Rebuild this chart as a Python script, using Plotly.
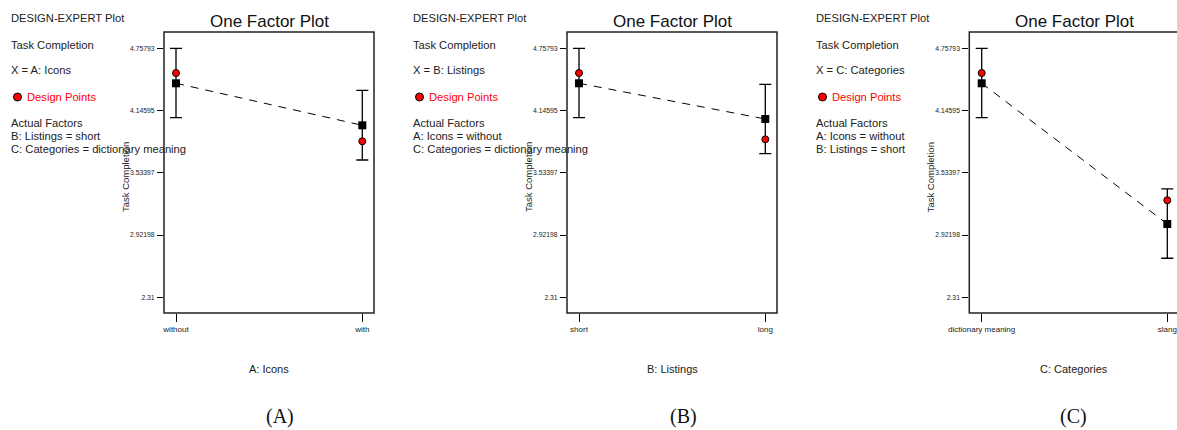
import plotly.graph_objects as go

W, H = 1177, 430

# ---------------- data ----------------
y_tickvals = [2.31, 2.92198, 3.53397, 4.14595, 4.75793]
y_ticktext = ["2.31", "2.92198", "3.53397", "4.14595", "4.75793"]

a_levels = ["without", "with"]
a_pred = [4.414, 4.001]
a_design = [4.515, 3.844]
a_upper = [4.758, 4.345]
a_lower = [4.076, 3.660]

b_levels = ["short", "long"]
b_pred = [4.414, 4.063]
b_design = [4.515, 3.863]
b_upper = [4.758, 4.404]
b_lower = [4.076, 3.722]

c_levels = ["dictionary meaning", "slang"]
c_pred = [4.414, 3.031]
c_design = [4.515, 3.264]
c_upper = [4.758, 3.375]
c_lower = [4.076, 2.694]

panel_x_titles = ["A: Icons", "B: Listings", "C: Categories"]
panel_labels = ["(A)", "(B)", "(C)"]
panel_factor_lines = [
    ["X = A: Icons", "B: Listings = short", "C: Categories = dictionary meaning"],
    ["X = B: Listings", "A: Icons = without", "C: Categories = dictionary meaning"],
    ["X = C: Categories", "A: Icons = without", "B: Listings = short"],
]

# ---------------- layout helpers ----------------
def px(x):
    return x / W

def py(y):
    return 1 - y / H

SANS = "Liberation Sans, Arial, sans-serif"
SERIF = "Liberation Serif, Times New Roman, serif"

frames = [(164, 374), (567, 777), (969.3, 1179)]
cat_pos = [(176, 362.3), (579, 765.3), (981.7, 1167.3)]
text_left = [11, 413, 816]
label_x = [280, 683, 1073]
y_top, y_bot = 32, 313
y_range = [2.1557, 4.9182]

panels = [
    (a_levels, a_pred, a_design, a_upper, a_lower),
    (b_levels, b_pred, b_design, b_upper, b_lower),
    (c_levels, c_pred, c_design, c_upper, c_lower),
]

fig = go.Figure()
shapes = []
annotations = []

for i, (levels, pred, design, upper, lower) in enumerate(panels):
    n = "" if i == 0 else str(i + 1)
    xa, ya = "x" + n, "y" + n
    fl, fr = frames[i]
    c0, c1 = cat_pos[i]
    unit = c1 - c0
    x0 = -(c0 - fl) / unit
    right_px = min(fr, W)
    x1 = x0 + (right_px - fl) / unit

    fig.add_trace(go.Scatter(
        x=levels, y=pred, xaxis=xa, yaxis=ya, mode="markers",
        marker=dict(symbol="square", size=8, color="black"),
        error_y=dict(type="data", symmetric=False,
                     array=[u - p for u, p in zip(upper, pred)],
                     arrayminus=[p - l for p, l in zip(pred, lower)],
                     color="black", thickness=1.3, width=6),
        showlegend=False, hoverinfo="skip", cliponaxis=False))
    fig.add_trace(go.Scatter(
        x=levels, y=pred, xaxis=xa, yaxis=ya, mode="lines",
        line=dict(color="black", width=1, dash="8px,7px"),
        showlegend=False, hoverinfo="skip"))
    fig.add_trace(go.Scatter(
        x=levels, y=design, xaxis=xa, yaxis=ya, mode="markers",
        marker=dict(symbol="circle", size=7, color="red",
                    line=dict(color="black", width=1)),
        showlegend=False, hoverinfo="skip", cliponaxis=False))

    dom_x = [px(fl), px(right_px)]
    dom_y = [py(y_bot), py(y_top)]
    fig.layout["xaxis" + n] = dict(
        domain=dom_x, anchor=ya, type="category", range=[x0, x1],
        showgrid=False, zeroline=False, showline=False, automargin=False,
        ticks="outside", ticklen=8, tickwidth=1, tickcolor="black",
        tickfont=dict(family=SANS, size=8, color="#222"),
        fixedrange=True)
    fig.layout["yaxis" + n] = dict(
        domain=dom_y, anchor=xa, range=y_range,
        tickvals=y_tickvals, ticktext=y_ticktext,
        showgrid=False, zeroline=False, showline=False, automargin=False,
        ticks="outside", ticklen=6, tickwidth=1, tickcolor="black",
        tickfont=dict(family=SANS, size=6.8, color="#222"),
        ticklabelstandoff=1, fixedrange=True)

    shapes.append(dict(type="rect", xref="paper", yref="paper",
                       x0=px(fl), x1=px(fr), y0=py(y_bot), y1=py(y_top),
                       line=dict(color="#222", width=1.5), layer="above"))

    cx = (fl + fr) / 2
    annotations.append(dict(x=px(cx), y=py(22), xref="paper", yref="paper",
                            text="One Factor Plot", showarrow=False,
                            xanchor="center", yanchor="middle",
                            font=dict(family=SANS, size=17, color="#111")))
    annotations.append(dict(x=px(fl - 38), y=py(177), xref="paper", yref="paper",
                            text="Task Completion", showarrow=False, textangle=-90,
                            xanchor="center", yanchor="middle",
                            font=dict(family=SANS, size=9.5, color="#222")))
    annotations.append(dict(x=px(cx), y=py(369), xref="paper", yref="paper",
                            text=panel_x_titles[i], showarrow=False,
                            xanchor="center", yanchor="middle",
                            font=dict(family=SANS, size=11, color="#222")))
    annotations.append(dict(x=px(label_x[i]), y=py(416), xref="paper", yref="paper",
                            text=panel_labels[i], showarrow=False,
                            xanchor="center", yanchor="middle",
                            font=dict(family=SERIF, size=20, color="#111")))

    tl = text_left[i] - 2
    lines = [("DESIGN-EXPERT Plot", 18.3, "#222", tl),
             ("Task Completion", 45, "#222", tl),
             (panel_factor_lines[i][0], 70.3, "#222", tl),
             ("Design Points", 97.3, "red", tl + 16),
             ("Actual Factors", 123.3, "#222", tl),
             (panel_factor_lines[i][1], 135.5, "#222", tl),
             (panel_factor_lines[i][2], 148.7, "#222", tl)]
    for txt, yy, col, xx in lines:
        annotations.append(dict(x=px(xx), y=py(yy), xref="paper", yref="paper",
                                text=txt, showarrow=False,
                                xanchor="left", yanchor="middle",
                                font=dict(family=SANS, size=11.2, color=col)))
    dx, dy, r = text_left[i] + 6.5, 97, 4
    shapes.append(dict(type="circle", xref="paper", yref="paper",
                       x0=px(dx - r), x1=px(dx + r), y0=py(dy + r), y1=py(dy - r),
                       fillcolor="red", line=dict(color="black", width=1)))

fig.update_layout(
    width=W, height=H, autosize=False,
    margin=dict(l=0, r=0, t=0, b=0, pad=0, autoexpand=False),
    paper_bgcolor="white", plot_bgcolor="white",
    shapes=shapes, annotations=annotations,
    showlegend=False,
)

# remove the default page margin so the figure fills the window exactly
fig.write_html(
    "out.html",
    config={"displayModeBar": False, "staticPlot": True},
    post_script="document.body.style.margin='0';document.body.style.overflow='hidden';",
)
